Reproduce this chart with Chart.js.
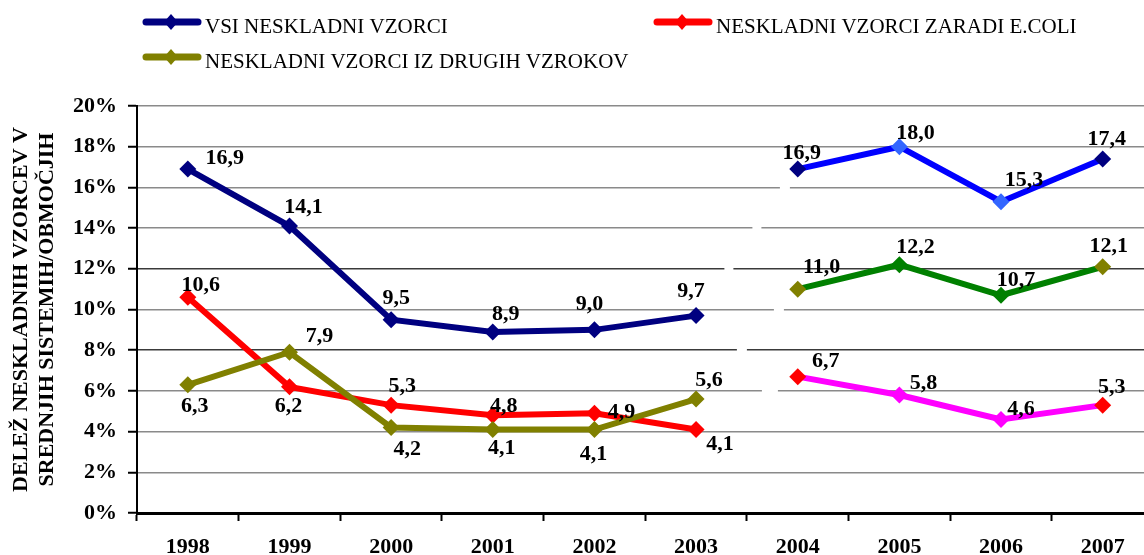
<!DOCTYPE html>
<html>
<head>
<meta charset="utf-8">
<title>Neskladni vzorci</title>
<script src="https://cdn.jsdelivr.net/npm/chart.js@4.4.1/dist/chart.umd.min.js"></script>
<style>
  html, body { margin: 0; padding: 0; background: #fff; overflow: hidden; }
  #wrap { position: absolute; left: 0; top: 0; width: 1162px; height: 555px; }
</style>
</head>
<body>
<div id="wrap"><canvas id="chart" width="1162" height="555"></canvas></div>
<script>
// ========================================
// DATA
// ========================================
const years = ['1998', '1999', '2000', '2001', '2002', '2003', '2004', '2005', '2006', '2007'];
const vsiValues = [16.9, 14.1, 9.5, 8.9, 9.0, 9.7, 16.9, 18.0, 15.3, 17.4];
const ecoliValues = [10.6, 6.2, 5.3, 4.8, 4.9, 4.1, 6.7, 5.8, 4.6, 5.3];
const drugiValues = [6.3, 7.9, 4.2, 4.1, 4.1, 5.6, 11.0, 12.2, 10.7, 12.1];
const yTicks = [0, 2, 4, 6, 8, 10, 12, 14, 16, 18, 20];
const seriesNames = ['VSI NESKLADNI VZORCI', 'NESKLADNI VZORCI ZARADI E.COLI', 'NESKLADNI VZORCI IZ DRUGIH VZROKOV'];

// first year of the second (re-coloured) part of every series
const SPLIT = 6;

// ========================================
// STYLE
// ========================================
const FONT = "'Liberation Serif', 'Times New Roman', serif";

// label offsets (dx, dy) from the point, one per year
const vsiLabelPos = [[37,-13],[14,-21],[5,-23],[13,-19],[-5,-27],[-5,-26],[4,-18],[16,-15],[23,-23],[4,-21]];
const ecoliLabelPos = [[13,-14],[-1,18],[11,-21],[11,-11],[27,-3],[24,13],[28,-17],[24,-13],[20,-12],[9,-20]];
const drugiLabelPos = [[7,20],[30,-18],[16,20],[9,17],[-1,23],[13,-21],[24,-24],[16,-19],[15,-17],[6,-22]];

// white breaks in the gridlines between 2003 and 2004: tick -> [dx, width]
const gridBreaks = { 16: [38, 10], 14: [10, 9], 12: [-18, 9], 10: [32, 10], 8: [-5, 10], 6: [23, 16] };

const firstPart = arr => arr.map((v, i) => (i < SPLIT ? v : null));
const secondPart = arr => arr.map((v, i) => (i >= SPLIT ? v : null));

// marker colours for the second part: end points keep the old colour
const endColours = (edge, mid) => years.map((y, i) => (i === SPLIT || i === years.length - 1 ? edge : mid));

function lineDataset(label, data, lineColor, pointColor, labelPos, order, legend) {
  return {
    label: label,
    data: data,
    borderColor: lineColor,
    backgroundColor: pointColor,
    pointBackgroundColor: pointColor,
    pointBorderColor: pointColor,
    pointBorderWidth: 0,
    borderWidth: 6,
    pointStyle: 'rectRot',
    pointRadius: 8.5,
    tension: 0,
    spanGaps: false,
    order: order,
    labelPos: labelPos,
    inLegend: legend
  };
}

const datasets = [
  lineDataset(seriesNames[0], firstPart(vsiValues), '#000080', '#000080', vsiLabelPos, 2, true),
  lineDataset(seriesNames[1], firstPart(ecoliValues), '#FF0000', '#FF0000', ecoliLabelPos, 1, true),
  lineDataset(seriesNames[2], firstPart(drugiValues), '#808000', '#808000', drugiLabelPos, 0, true),
  lineDataset(seriesNames[0], secondPart(vsiValues), '#0000FF', endColours('#000080', '#3366FF'), vsiLabelPos, 2, false),
  lineDataset(seriesNames[1], secondPart(ecoliValues), '#FF00FF', endColours('#FF0000', '#FF00FF'), ecoliLabelPos, 1, false),
  lineDataset(seriesNames[2], secondPart(drugiValues), '#008000', endColours('#808000', '#008000'), drugiLabelPos, 0, false)
];

// ========================================
// PLUGINS
// ========================================

// Broken-axis gaps in the gridlines
const gridBreakPlugin = {
  id: 'gridBreaks',
  beforeDatasetsDraw(chart) {
    const { ctx, scales: { x, y } } = chart;
    const mid = (x.getPixelForValue(SPLIT - 1) + x.getPixelForValue(SPLIT)) / 2;
    ctx.save();
    ctx.fillStyle = '#fff';
    Object.entries(gridBreaks).forEach(([tick, [dx, w]]) => {
      const py = y.getPixelForValue(Number(tick));
      ctx.fillRect(mid + dx - w / 2, py - 2.5, w, 5);
    });
    ctx.restore();
  }
};

// Value labels next to every point
const valueLabelPlugin = {
  id: 'valueLabels',
  afterDatasetsDraw(chart) {
    const { ctx } = chart;
    ctx.save();
    ctx.font = 'bold 22px ' + FONT;
    ctx.fillStyle = '#000';
    ctx.textAlign = 'center';
    ctx.textBaseline = 'alphabetic';
    chart.data.datasets.forEach((ds, di) => {
      const meta = chart.getDatasetMeta(di);
      meta.data.forEach((pt, i) => {
        const v = ds.data[i];
        if (v === null || v === undefined) return;
        const [dx, dy] = ds.labelPos[i];
        ctx.fillText(v.toFixed(1).replace('.', ','), pt.x + dx, pt.y + dy + 7.5);
      });
    });
    ctx.restore();
  }
};

// Legend in two columns like the original
const legendSlots = [[143, 22], [654, 22], [143, 57]];
const legendPlugin = {
  id: 'twoColumnLegend',
  afterDraw(chart) {
    const { ctx } = chart;
    ctx.save();
    chart.data.datasets.filter(ds => ds.inLegend).forEach((ds, i) => {
      const [lx, ly] = legendSlots[i];
      ctx.strokeStyle = ds.borderColor;
      ctx.lineWidth = 7;
      ctx.lineCap = 'round';
      ctx.beginPath();
      ctx.moveTo(lx + 3, ly);
      ctx.lineTo(lx + 55, ly);
      ctx.stroke();
      ctx.fillStyle = ds.borderColor;
      ctx.beginPath();
      ctx.moveTo(lx + 28, ly - 8);
      ctx.lineTo(lx + 35, ly);
      ctx.lineTo(lx + 28, ly + 8);
      ctx.lineTo(lx + 21, ly);
      ctx.closePath();
      ctx.fill();
      ctx.fillStyle = '#000';
      ctx.font = '21px ' + FONT;
      ctx.textAlign = 'left';
      ctx.textBaseline = 'alphabetic';
      ctx.fillText(ds.label, lx + 62, ly + 11);
    });
    ctx.restore();
  }
};

// ========================================
// CHART
// ========================================
new Chart(document.getElementById('chart'), {
  type: 'line',
  data: { labels: years, datasets: datasets },
  plugins: [gridBreakPlugin, valueLabelPlugin, legendPlugin],
  options: {
    responsive: false,
    animation: false,
    devicePixelRatio: 1,
    layout: { padding: { top: 106, right: 2, left: 0, bottom: 0 } },
    plugins: {
      legend: { display: false },
      tooltip: { enabled: false }
    },
    scales: {
      x: {
        offset: true,
        grid: {
          offset: true,
          drawOnChartArea: false,
          drawTicks: true,
          tickLength: 8,
          tickColor: '#000',
          tickWidth: 2
        },
        border: { display: true, color: '#000', width: 3 },
        ticks: {
          color: '#000',
          padding: 13,
          maxRotation: 0,
          autoSkip: false,
          font: { family: FONT, size: 22, weight: 'bold' }
        },
        afterFit(scale) { scale.height = 42; }
      },
      y: {
        min: 0,
        max: 20,
        afterBuildTicks(scale) { scale.ticks = yTicks.map(v => ({ value: v })); },
        grid: {
          color: ctx => (ctx.tick && (ctx.tick.value === 8 || ctx.tick.value === 12) ? '#3a3a3a' : '#8a8a8a'),
          lineWidth: 1.5,
          tickLength: 9,
          tickColor: '#000',
          tickWidth: 2
        },
        border: { display: true, color: '#000', width: 2 },
        ticks: {
          color: '#000',
          padding: 11,
          callback: v => v + '%',
          font: { family: FONT, size: 22, weight: 'bold' }
        },
        title: {
          display: true,
          text: ['DELEŽ NESKLADNIH VZORCEV V', 'SREDNJIH SISTEMIH/OBMOČJIH'],
          color: '#000',
          padding: { top: 8, bottom: 0 },
          font: { family: FONT, size: 22, weight: 'bold', lineHeight: 1.2 }
        },
        afterFit(scale) { scale.width = 137; }
      }
    }
  }
});
</script>
</body>
</html>
